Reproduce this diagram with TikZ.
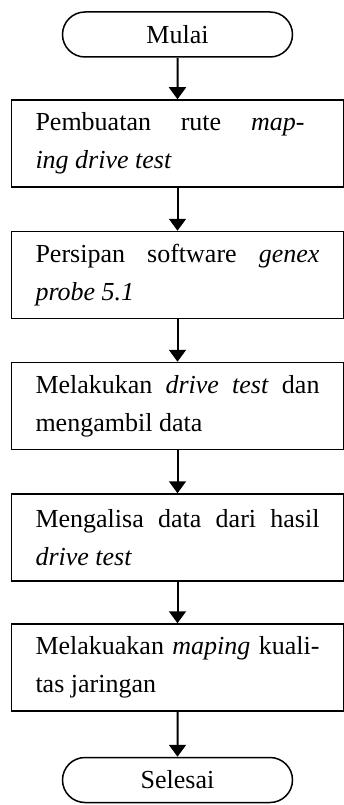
\documentclass[tikz,border=0pt]{standalone}
\usepackage{fontspec}
\setmainfont{Liberation Serif}
\usepackage{tikz}
\usetikzlibrary{shapes.misc, arrows.meta}

\newcommand{\isifont}{\fontsize{26}{38}\selectfont}

\begin{document}
\begin{tikzpicture}[x=1pt, y=-1pt,
		terminal/.style = {draw, line width=1.5pt, rounded rectangle, minimum width=230pt, minimum height=45pt, inner sep=0pt, font=\isifont},
		proses/.style = {draw, line width=1.5pt, minimum width=332pt, minimum height=87pt, text width=284pt, align=justify, inner xsep=0pt, font=\isifont},
		panah/.style = {line width=2pt, -{Triangle[width=17pt, length=12pt]}}]
		\def\xc{177.5};
		
		\useasboundingbox (0,0) rectangle (344,805);
		
		\node [terminal] (mulai) at (\xc,34.5) {Mulai};
		
		\node [proses] (rute) at (\xc,143.5) {Pembuatan rute \textit{map-}\hspace*{15pt}\linebreak \textit{ing drive test}};
		\node [proses] (software) at (\xc,275) {Persipan software \textit{genex}\linebreak \textit{probe 5.1}};
		\node [proses] (ambil) at (\xc,406) {Melakukan \textit{drive test} dan\linebreak mengambil data};
		\node [proses] (analisa) at (\xc,537.5) {Mengalisa data dari hasil\linebreak \textit{drive test}};
		\node [proses] (mapping) at (\xc,667.5) {Melakuakan \textit{maping} kuali-\linebreak tas jaringan};
		
		\node [terminal] (selesai) at (\xc,780) {Selesai};
		
		\draw [panah] (mulai) -- (rute);
		\draw [panah] (rute) -- (software);
		\draw [panah] (software) -- (ambil);
		\draw [panah] (ambil) -- (analisa);
		\draw [panah] (analisa) -- (mapping);
		\draw [panah] (mapping) -- (selesai);
	\end{tikzpicture}
\end{document}
